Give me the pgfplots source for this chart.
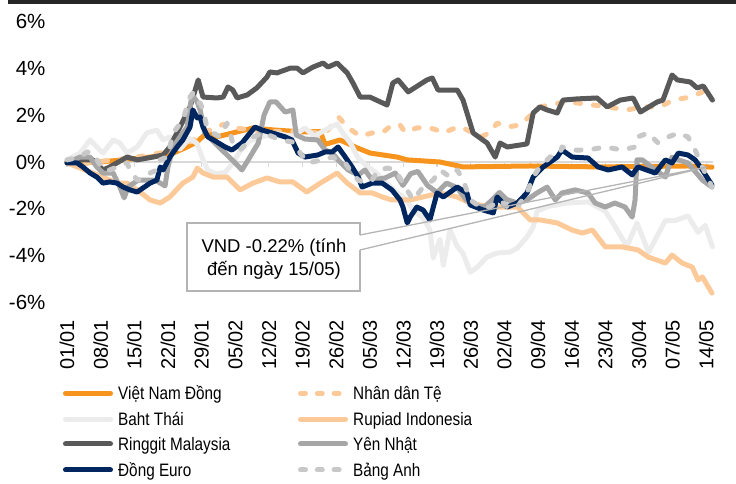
\documentclass[border=0pt]{standalone}
\usepackage{pgfplots}
\pgfplotsset{compat=1.18}
\usepackage{fontspec}
\setmainfont{Liberation Sans}
\newfontfamily\legfont[FakeStretch=0.85]{Liberation Sans}
\definecolor{vnd}{RGB}{247,148,30}
\definecolor{peach}{RGB}{252,201,153}
\definecolor{baht}{RGB}{236,236,236}
\definecolor{myr}{RGB}{89,89,89}
\definecolor{jpy}{RGB}{166,166,166}
\definecolor{eur}{RGB}{0,38,96}
\definecolor{gbp}{RGB}{200,200,200}
\definecolor{axisgray}{RGB}{217,217,217}
\definecolor{topbar}{RGB}{38,38,38}
\definecolor{callgray}{RGB}{180,180,180}
\tikzset{ser/.style={line width=5pt, line cap=round, line join=round},
         dsh/.style={dash pattern=on 5pt off 13pt}}
\begin{document}
\begin{tikzpicture}[x=1pt,y=1pt]
\path[use as bounding box] (0,0) rectangle (736,484);
\fill[topbar] (8,480) rectangle (736,484);
\begin{axis}[
  at={(64.6pt,181.3pt)}, anchor=south west, scale only axis,
  width=648.8pt, height=281.4pt,
  xmin=-0.5, xmax=134.5, ymin=-6, ymax=6,
  axis line style={draw=none}, tick style={draw=none},
  xtick={0,7,...,133},
  xticklabels={01/01,08/01,15/01,22/01,29/01,05/02,12/02,19/02,26/02,05/03,12/03,19/03,26/03,02/04,09/04,16/04,23/04,30/04,07/05,14/05},
  ytick={-6,-4,...,6},
  yticklabels={-6\%,-4\%,-2\%,0\%,2\%,4\%,6\%},
  xticklabel style={rotate=90, anchor=east, inner sep=0pt, font=\fontsize{20}{24}\selectfont},
  yticklabel style={anchor=east, inner sep=0pt, font=\fontsize{20.5}{24}\selectfont},
  xticklabel shift=17pt, yticklabel shift=19pt,
  clip=false,
]
\draw[axisgray, line width=1.5pt] (axis cs:-0.5,0) -- (axis cs:134.5,0);
\pgfplotsinvokeforeach{0,7,...,133}{\draw[axisgray, line width=1.2pt] (axis cs:#1,0) -- ++(0pt,-5pt);}
% Viet Nam Dong
\addplot[ser, vnd] coordinates {(0,-0.04) (6.9,0) (12,0.1) (17.3,0.21) (22.1,0.38) (25,0.64) (27,0.85) (29.1,1.24) (31.2,1.07) (34.5,1.24) (38.7,1.45) (43.3,1.36) (49.5,1.28) (52.7,1.3) (53.7,0.75) (56.8,0.94) (60.4,0.6) (63.1,0.38) (68.7,0.21) (70.8,0.09) (77.6,0) (82.4,-0.21) (96.4,-0.17) (110.9,-0.21) (129.2,-0.17) (134.2,-0.22)};
% Nhan dan Te
\addplot[ser, peach, dsh] coordinates {(0,0) (3,-0.1) (5.4,0) (8,0.05) (12.5,0.15) (17.3,0.3) (20.8,0.45) (24,0.7) (27,1.0) (29.5,1.35) (32.5,1.6) (35,1.45) (39,1.35) (43,1.3) (47,1.3) (50,1.25) (54,1.28) (56.5,1.92) (58.3,1.49) (61,1.1) (63.5,1.24) (65.6,1.24) (67.6,1.58) (69.3,1.58) (70.3,1.28) (72.8,1.45) (74.9,1.49) (77,1.36) (78.3,1.24) (81.2,1.49) (82.4,1.45) (84.5,1.24) (86,1.07) (88,1.24) (89.5,1.66) (91.6,1.49) (94.3,1.58) (97,2.09) (98.4,2.35) (102.6,2.52) (106.1,2.52) (109.5,2.43) (112.4,2.35) (116.5,2.22) (119.9,2.35) (123.4,2.35) (126.1,2.64) (129.7,2.77) (133.2,3.07) (134.2,2.99)};
% Baht Thai
\addplot[ser, baht] coordinates {(0,0.09) (2.7,0.38) (4.8,0.94) (6.2,0.64) (7.5,0.38) (9.6,0.94) (11,0.81) (12.5,0.38) (14.6,0.64) (16.6,1.24) (18.7,1.36) (20,0.94) (21.4,1.07) (23.5,0.55) (25.5,1.0) (27,0.8) (28.3,0.1) (29.3,-0.35) (31,-0.5) (32.9,-0.45) (34.5,-0.05) (36,0.45) (38,0.9) (41,1.1) (44,1.2) (47,1.1) (49.5,1.45) (51.5,1.1) (54,1.4) (56.2,1.62) (57.5,1.2) (59,0.8) (60.5,0.2) (62,-0.1) (64,-0.4) (66,-0.8) (68,-1.2) (70,-1.5) (72,-2.0) (74.5,-2.5) (75.5,-2.9) (76.2,-4.1) (77.6,-3.3) (78.3,-4.4) (79.7,-2.9) (81.2,-3.6) (82.4,-3.9) (83.9,-4.7) (85.3,-4.5) (87.4,-4.05) (89.5,-3.88) (92.2,-3.84) (93.7,-3.67) (95.7,-3.2) (97,-2.77) (97.8,-2.1) (100,-1.9) (104,-1.75) (108.5,-1.7) (112,-2.1) (113.6,-2.6) (116.5,-3.6) (118.6,-2.6) (121,-3.85) (124.5,-2.5) (126.5,-2.5) (129.2,-2.3) (131.3,-3.0) (132.8,-2.7) (134.3,-3.62)};
% Rupiad Indonesia
\addplot[ser, peach] coordinates {(0,-0.04) (5.4,-0.47) (8.9,-0.77) (10.4,-0.9) (12.5,-0.9) (14.6,-1.19) (17.3,-1.62) (19.4,-1.75) (21.4,-1.49) (24.1,-0.9) (26.2,-0.64) (27.1,-0.26) (28.3,-0.47) (30.4,-0.64) (33.3,-0.64) (36,-1.19) (38.7,-0.9) (41.6,-0.68) (44.3,-0.85) (47,-0.85) (49.9,-1.28) (52.7,-0.9) (56.2,-0.47) (58.3,-0.9) (61,-1.32) (63.5,-1.32) (65.6,-1.49) (67.6,-1.62) (71.4,-1.62) (77.6,-1.32) (81.2,-1.49) (83.9,-1.75) (88,-1.92) (93.7,-1.92) (96.4,-2.47) (98.4,-2.47) (102,-2.6) (105.1,-2.9) (107.2,-3.03) (109.3,-2.9) (112,-3.62) (115.5,-3.62) (118.8,-3.75) (120.9,-4.05) (124.5,-4.31) (125.9,-3.97) (128,-4.31) (130.1,-4.48) (131.3,-5.03) (132.2,-4.9) (134.2,-5.59)};
% Ringgit Malaysia
\addplot[ser, myr] coordinates {(0,0) (1.2,0.09) (5.4,0.09) (7.5,-0.34) (8.9,-0.21) (12.5,0.21) (14.6,0.09) (17.9,0.21) (20,0.3) (21.4,0.64) (23.5,1.49) (25.6,2.35) (27.3,3.5) (28.3,2.77) (31.2,2.73) (32.5,2.77) (33.5,3.2) (34.5,3.07) (35.4,2.73) (37.5,2.86) (39.5,3.16) (41.6,3.62) (42.2,3.84) (43.7,3.8) (46.4,4.0) (47.9,4.0) (49.1,3.8) (51.2,4.05) (53.3,4.22) (54.3,4.05) (56.2,4.22) (58.3,3.8) (59.5,3.37) (61,2.77) (63,2.77) (66.6,2.43) (67.8,3.37) (68.9,3.5) (71,2.99) (74.9,3.5) (76,3.58) (77.2,3.07) (81.2,3.07) (82.4,2.64) (84.5,1.24) (87.4,0.81) (89.1,0.21) (90.1,0.81) (91.6,0.64) (95.7,0.77) (97,2.09) (98.4,2.35) (99.9,2.22) (102,2.09) (103.2,2.64) (106.1,2.69) (110.3,2.73) (112.4,2.35) (115.1,2.64) (117.8,2.73) (119.3,2.13) (122.8,2.56) (124,2.64) (125.9,3.71) (127,3.5) (129.7,3.41) (131.1,3.16) (132.4,3.24) (134.3,2.64)};
% Yen Nhat
\addplot[ser, jpy] coordinates {(0,-0.04) (2.7,0.21) (4.8,0.21) (6.2,-0.21) (7.5,-0.47) (9.6,-0.47) (11,-1.07) (11.9,-1.53) (12.7,-1.07) (14.8,-0.77) (18.3,-0.77) (20.4,-1.02) (21,-0.21) (22.1,0.64) (23.5,1.07) (25,1.49) (26,2.86) (27.1,2.56) (27.7,2.22) (28.7,1.24) (30.8,0.81) (32.9,0.38) (35,-0.04) (36.4,-0.34) (37.7,0.09) (39.8,0.81) (41,2.0) (42.2,2.56) (43.5,2.56) (45.4,2.13) (47,2.22) (47.7,1.15) (49.5,0.98) (52.2,0.94) (53.7,0.51) (55.2,0.38) (56.4,0.09) (58.5,-0.34) (60.6,-0.55) (62,-0.34) (63.5,-0.77) (66.2,-0.68) (68.3,-0.47) (69.9,-1.0) (71.5,-0.5) (73,-0.4) (75,-1.0) (77,-1.3) (79,-0.9) (81.2,-1.1) (83,-1.6) (85,-1.9) (87,-1.9) (89,-1.5) (90,-1.3) (91.5,-1.6) (93.7,-1.75) (95.7,-1.62) (97.8,-1.32) (99.9,-1.07) (101.6,-1.62) (103,-1.32) (105.7,-1.19) (108.4,-1.32) (109.9,-1.75) (112,-1.92) (114,-1.75) (116.1,-1.92) (117.6,-2.35) (118.2,-1.62) (118.6,0.09) (119.7,0.09) (122.4,-0.34) (124.5,-0.64) (125.9,0.21) (127.2,0.09) (129.2,-0.04) (132.2,-0.77) (134.2,-1.07)};
% Dong Euro
\addplot[ser, eur] coordinates {(0,-0.04) (2.1,-0.04) (3.3,-0.21) (4.8,-0.47) (6.2,-0.64) (7.5,-0.9) (8.9,-0.85) (10.4,-0.9) (11.7,-1.07) (13.1,-1.19) (14.6,-1.28) (15.8,-1.11) (17.3,-0.9) (18.7,-0.77) (19.4,-0.21) (20,-0.34) (21.4,0.21) (22.9,0.64) (24.1,0.94) (25.6,1.49) (26.2,2.22) (27.1,1.88) (27.7,1.92) (28.3,1.49) (29.3,1.07) (30.8,0.9) (32.9,0.64) (34.3,0.51) (36.4,0.81) (39.1,1.49) (40.6,1.36) (42.7,1.24) (45.4,1.07) (46.8,0.94) (48.1,0.38) (49.5,0.21) (52.2,0.3) (53.7,0.43) (55.2,0.43) (56.4,0.64) (57.9,0.21) (59.3,-0.21) (60.6,-0.64) (61.4,-1.07) (63.5,-0.9) (65.6,-0.9) (67.6,-1.19) (69.3,-1.62) (69.9,-1.92) (70.8,-2.6) (71.4,-2.35) (72.8,-1.92) (74.1,-2.05) (75.5,-2.47) (77,-1.32) (78.3,-1.49) (81.2,-1.07) (83.2,-1.32) (83.9,-1.83) (86.6,-2.05) (88.7,-2.17) (89.5,-1.49) (90.7,-1.75) (91.6,-1.92) (93.7,-1.75) (95.7,-1.32) (97,-0.64) (99.1,-0.21) (102,0.21) (103,0.51) (105.1,0.21) (108.4,0.17) (110.5,-0.21) (112.6,-0.34) (115.5,-0.21) (117.6,-0.55) (118.8,-0.21) (122.4,-0.47) (124.5,0.09) (125.9,-0.04) (127.2,0.38) (129.2,0.3) (130.7,0.09) (132.2,-0.34) (134.2,-0.98)};
% Bang Anh
\addplot[ser, gbp, dsh] coordinates {(0,0.09) (2.7,0.21) (4.2,0.43) (5.4,0.38) (7.5,-0.34) (8.9,-0.34) (10.4,-0.21) (12.5,-0.04) (13.1,-0.34) (14.6,-0.77) (15.8,-0.68) (17.3,-0.47) (18.7,-0.34) (19.4,0.09) (20.8,0.21) (21.4,0.64) (22.1,1.24) (24.1,1.79) (25.6,2.77) (26.2,2.94) (27.1,2.52) (27.7,2.52) (28.3,2.22) (29.1,1.49) (30.4,1.24) (31.8,1.07) (33.3,1.66) (34.5,0.81) (36,0.51) (38.7,1.07) (40.8,1.24) (42.9,1.07) (44.3,0.94) (47,0.85) (48.5,0.38) (50.2,-0.04) (53.1,0.09) (55.2,0.21) (56.4,0.09) (57.9,-0.04) (59.3,-0.47) (60.6,-0.77) (62,-0.9) (63.5,-0.77) (64.7,-0.34) (66.8,-0.26) (68.3,-0.34) (69.9,-0.9) (72,-1.62) (74.1,-1.07) (76.2,-0.77) (77.6,-0.34) (79.7,-0.64) (81.2,-0.34) (82.4,-0.77) (83.9,-1.62) (86,-1.92) (88,-1.92) (90.1,-1.62) (91.6,-1.92) (93.7,-1.92) (95.7,-1.32) (97,-0.64) (98.4,-0.21) (100.5,0.21) (102.6,0.38) (103,0.64) (105.1,0.51) (108.4,0.51) (112,0.64) (115.5,0.51) (118.2,0.64) (118.8,1.07) (120.9,1.24) (123,0.81) (125.1,1.07) (127.2,1.24) (129.2,1.07) (130.7,0.51) (132.2,-0.21) (134.2,-1.07)};
\end{axis}
% callout
\fill[white] (187,193) rectangle (360,261);
\draw[callgray, line width=1.3pt, line join=miter] (360,234) -- (360,193) -- (187,193) -- (187,261) -- (360,261) -- (360,249);
\draw[callgray, line width=1.3pt] (360,249) -- (707,317) -- (360,234);
\node[font=\fontsize{18.5}{22}\selectfont, inner sep=0pt] at (274,236) {VND -0.22\% (tính};
\node[font=\fontsize{18.5}{22}\selectfont, inner sep=0pt] at (274,214) {đến ngày 15/05)};
% legend
\draw[ser, vnd] (65.5,90.7) -- (110.5,90.7);
\draw[ser, baht] (65.5,64.7) -- (110.5,64.7);
\draw[ser, myr] (65.5,40) -- (110.5,40);
\draw[ser, eur] (65.5,14) -- (110.5,14);
\draw[ser, peach, dash pattern=on 5pt off 11.8pt] (300.5,90.7) -- (345.5,90.7);
\draw[ser, peach] (300.5,64.7) -- (345.5,64.7);
\draw[ser, jpy] (300.5,40) -- (345.5,40);
\draw[ser, gbp, dash pattern=on 5pt off 11.8pt] (300.5,14) -- (345.5,14);
\begin{scope}[every node/.style={anchor=base west, inner sep=0pt, font=\legfont\fontsize{18}{20}\selectfont}]
\node at (118,84.2) {Việt Nam Đồng};
\node at (118,58.2) {Baht Thái};
\node at (118,33.5) {Ringgit Malaysia};
\node at (118,7.5) {Đồng Euro};
\node at (353,84.2) {Nhân dân Tệ};
\node at (353,58.2) {Rupiad Indonesia};
\node at (353,33.5) {Yên Nhật};
\node at (353,7.5) {Bảng Anh};
\end{scope}
\end{tikzpicture}
\end{document}
